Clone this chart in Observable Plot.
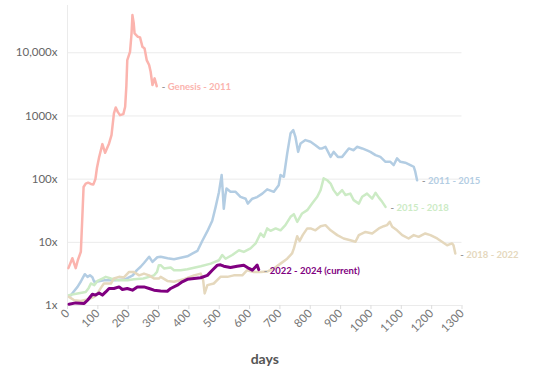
<!DOCTYPE html>
<html><head><meta charset="utf-8">
<script src="https://cdn.jsdelivr.net/npm/d3@7"></script>
<script src="https://cdn.jsdelivr.net/npm/@observablehq/plot@0.6"></script>
<style>body{margin:0;background:#fff}</style>
</head><body><div id="chart"></div>
<script>
const seriesNames = ["Genesis - 2011", "2011 - 2015", "2015 - 2018", "2018 - 2022", "2022 - 2024 (current)"];
const seriesColors = ["#fbb4ae", "#b3cde3", "#ccebc5", "#e5d8bd", "#800080"];

const genesisDays = [3,16,27,34,44,48,53,60,68,77,85,92,97,104,115,124,137,145,153,159,166,173,184,190,194,197,206,211,214,218,221,232,239,247,254,261,269,274,280,287,294];
const genesisVals = [3.9,5.6,3.9,5.2,7.1,20,75,85,88,84,82,100,150,220,358,261,367,497,1100,1365,1150,1030,1070,1400,3000,7660,10370,20000,39500,30000,20300,17900,17500,12400,11700,7660,6390,5000,3080,3940,2960];

const s1115Days = [11,22,33,44,49,57,66,74,82,88,99,120,145,160,190,215,228,241,252,269,280,296,307,330,351,373,395,411,428,444,461,477,488,499,508,511,515,520,524,537,554,570,587,594,609,625,642,658,680,696,702,713,724,735,744,751,760,768,784,801,817,831,839,850,867,877,891,905,927,943,954,971,987,998,1015,1031,1048,1064,1075,1086,1097,1113,1130,1141,1146,1152];
const s1115Vals = [1.45,1.7,1.97,2.4,2.67,3.13,2.84,3.0,2.8,2.37,2.4,2.5,2.5,2.5,2.6,3.0,3.6,4.1,4.7,5.9,4.9,5.8,5.9,5.6,5.4,5.7,6.0,6.6,7.3,10.5,15,22,36,62,116,70,34,55,71,63,63,52.5,49,41,49,52,59,69,63,80,116,109,255,530,597,468,270,367,415,390,345,306,306,325,225,270,225,225,306,287,325,306,285,270,240,225,188,188,167,213,188,182,167,157,131,96];

const s1518Days = [5,33,60,70,77,88,99,115,126,143,170,198,219,250,285,295,301,307,318,340,351,373,395,406,439,472,499,510,521,543,565,581,603,620,636,647,658,669,686,702,718,735,746,757,773,790,806,823,834,844,856,867,877,889,905,916,932,943,960,971,987,1004,1015,1026,1037,1048];
const s1518Vals = [1.46,1.55,1.64,1.9,2.23,2.1,2.45,2.67,2.84,2.67,2.5,2.5,2.6,2.67,3.0,3.4,4.35,4.35,3.86,4.0,3.62,3.62,3.75,3.86,4.19,4.6,5.2,6.3,5.5,6.3,7.5,7.06,8.0,9.6,13.8,12.2,16.6,15.2,16.6,15.5,18.7,25.3,27.9,21.1,28.6,32.3,41,52.5,67,103,96,85,67,56,67,56,59,46.5,41,52.5,59,49,60.7,51,43.7,36.4];

const s1822Days = [5,22,44,66,88,99,110,120,143,153,170,186,203,219,236,252,269,285,301,307,329,351,384,417,439,447,452,461,482,504,527,548,576,592,614,636,658,680,702,724,740,746,757,765,775,790,801,817,834,850,867,889,910,932,949,960,982,1004,1026,1042,1053,1062,1070,1086,1103,1124,1141,1157,1179,1196,1218,1234,1251,1267,1272,1278];
const s1822Vals = [1.37,1.21,1.18,1.24,1.37,1.55,1.9,2.23,2.23,2.67,2.84,2.78,3.4,3.4,3.0,3.2,3.0,2.67,2.67,2.84,2.45,2.37,2.6,3.0,3.2,2.52,1.55,2.1,2.23,2.84,2.84,3.0,3.0,3.62,3.4,3.4,3.45,3.86,4.6,5.5,6.66,8.0,12.5,10.5,13,16.6,16.6,15.5,18,18.7,15.5,13,11.5,10.8,10.2,13,14.6,13.8,16.6,18,18.7,21.1,17.6,15.5,13,11.5,13,12.2,13.8,13,11.5,10.2,9.0,9.6,9.0,6.66];

const s2224Days = [5,27,55,66,82,93,104,115,126,137,153,170,181,197,214,230,252,269,285,307,329,340,362,378,395,417,439,461,477,494,504,515,537,559,581,598,609,625,630];
const s2224Vals = [1.05,1.1,1.08,1.21,1.51,1.46,1.58,1.46,1.64,1.86,1.86,1.97,1.79,1.86,1.75,1.97,1.97,1.86,1.75,1.7,1.68,1.86,2.1,2.37,2.6,2.67,2.75,3.0,3.62,4.35,4.4,4.19,4.0,4.19,4.35,3.86,3.62,4.35,3.7];

const xTicks = [0,100,200,300,400,500,600,700,800,900,1000,1100,1200,1300];
const yTicks = [1,10,100,1000,10000];
const yTickLabels = ["1x","10x","100x","1000x","10,000x"];

const seriesDays = [genesisDays, s1115Days, s1518Days, s1822Days, s2224Days];
const seriesVals = [genesisVals, s1115Vals, s1518Vals, s1822Vals, s2224Vals];

const rows = seriesNames.map((name, i) => seriesDays[i].map((d, j) => ({series: name, day: d, value: seriesVals[i][j]})));
const lastRows = rows.map(r => r[r.length - 1]);

const chart = Plot.plot({
  width: 550,
  height: 385,
  marginTop: 5,
  marginBottom: 80,
  marginLeft: 67,
  marginRight: 88.5,
  style: {fontFamily: "Lato, sans-serif", fontSize: "11px", color: "#666", background: "#fff"},
  x: {domain: [0, 1300]},
  y: {type: "log", domain: [1, 56000]},
  color: {domain: seriesNames, range: seriesColors},
  marks: [
    Plot.gridY(yTicks, {stroke: "#ebebeb", strokeOpacity: 1}),
    Plot.ruleX([0], {stroke: "#ebebeb"}),
    Plot.axisY(yTicks, {tickSize: 0, tickPadding: 10, tickFormat: d => yTickLabels[yTicks.indexOf(d)], fill: "#666", fontSize: 11.5, label: null}),
    Plot.axisX(xTicks, {tickRotate: -45, tickSize: 4, tickPadding: 2, tickFormat: d => String(d), stroke: "#ddd", fill: "#777", fontSize: 11.5, label: null}),
    ...rows.map((r, i) => Plot.line(r, {x: "day", y: "value", stroke: "series", strokeWidth: i === 4 ? 3 : 2.5, strokeLinejoin: "round", strokeLinecap: "round"})),
    Plot.text(lastRows, {x: "day", y: "value", text: () => "-", dx: 5, dy: 1, textAnchor: "start", fill: "#999", fontWeight: "bold", fontSize: 9.5}),
    Plot.text(lastRows, {x: "day", y: "value", text: "series", dx: 11, dy: 1, textAnchor: "start", fill: "series", fontWeight: "bold", fontSize: 9.5}),
    Plot.text(["days"], {frameAnchor: "bottom", dy: 58, text: d => d, fontWeight: "bold", fontSize: 14, fill: "#555"})
  ]
});
document.getElementById("chart").appendChild(chart);
</script>
</body></html>
